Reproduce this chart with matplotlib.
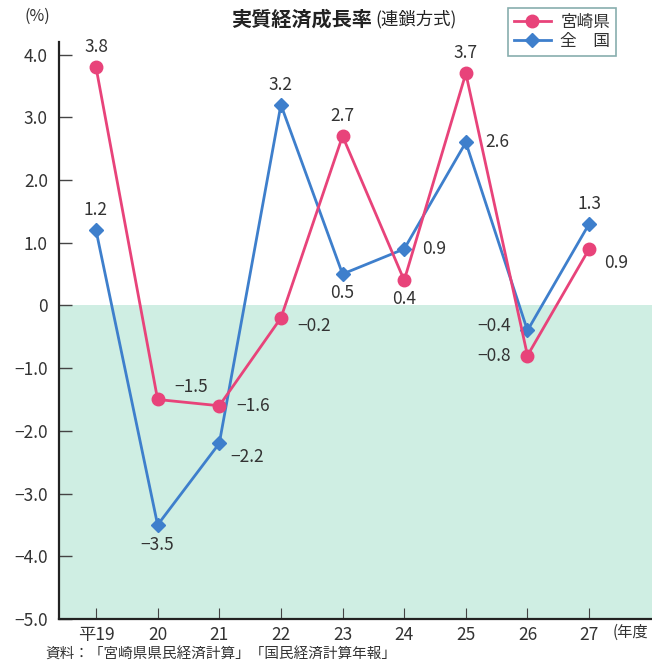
import matplotlib
matplotlib.use("Agg")
import matplotlib.pyplot as plt
from matplotlib.lines import Line2D

plt.rcParams['font.family'] = ['Noto Sans CJK JP', 'DejaVu Sans']
plt.rcParams['axes.unicode_minus'] = True

years = ['平19', '20', '21', '22', '23', '24', '25', '26', '27']
miyazaki = [3.8, -1.5, -1.6, -0.2, 2.7, 0.4, 3.7, -0.8, 0.9]
zenkoku = [1.2, -3.5, -2.2, 3.2, 0.5, 0.9, 2.6, -0.4, 1.3]
yticks = [4.0, 3.0, 2.0, 1.0, 0, -1.0, -2.0, -3.0, -4.0, -5.0]
ytick_labels = ['4.0', '3.0', '2.0', '1.0', '0', '−1.0', '−2.0', '−3.0', '−4.0', '−5.0']

# label offsets in points (dx, dy) and alignment
miy_off = [(0, 8, 'center', 'bottom'), (12, 9, 'left', 'center'), (12, 0, 'left', 'center'),
           (12, -6, 'left', 'center'), (0, 8, 'center', 'bottom'), (0, -7, 'center', 'top'),
           (0, 8, 'center', 'bottom'), (-12, 0, 'right', 'center'), (11, -10, 'left', 'center')]
zen_off = [(0, 8, 'center', 'bottom'), (0, -8, 'center', 'top'), (8, -10, 'left', 'center'),
           (0, 8, 'center', 'bottom'), (0, -7, 'center', 'top'), (13, 0, 'left', 'center'),
           (14, 0, 'left', 'center'), (-12, 3, 'right', 'center'), (0, 8, 'center', 'bottom')]

pink = '#e8437a'
blue = '#3e7fcc'
green = '#cfeee3'
txt = '#333333'

fig = plt.figure(figsize=(6.52, 6.68), dpi=100)
ax = fig.add_axes([59/652, 1 - 619/668, 1 - 59/652, (619 - 42)/668])

x = list(range(len(years)))
ax.set_xlim(-0.6, 9.02)
ax.set_ylim(-5.0, 4.2)

ax.axhspan(-5.0, 0, color=green, zorder=0, lw=0)

ax.plot(x, zenkoku, color=blue, lw=2.0, marker='D', ms=7.5, zorder=3)
ax.plot(x, miyazaki, color=pink, lw=2.0, marker='o', ms=9, zorder=4)

def fmt(v):
    s = f'{abs(v):.1f}'
    return ('−' + s) if v < 0 else s

for xi, v, (dx, dy, ha, va) in zip(x, miyazaki, miy_off):
    ax.annotate(fmt(v), (xi, v), xytext=(dx, dy), textcoords='offset points',
                ha=ha, va=va, fontsize=12.5, color=txt, zorder=5)
for xi, v, (dx, dy, ha, va) in zip(x, zenkoku, zen_off):
    ax.annotate(fmt(v), (xi, v), xytext=(dx, dy), textcoords='offset points',
                ha=ha, va=va, fontsize=12.5, color=txt, zorder=5)

ax.set_yticks(yticks)
ax.set_yticklabels(ytick_labels)
ax.set_xticks(x)
ax.set_xticklabels(years)
ax.tick_params(axis='y', direction='in', length=9, width=1, color='#444444',
               labelsize=12.5, labelcolor=txt, pad=8)
ax.tick_params(axis='x', direction='in', length=8, width=0.8, color='#444444',
               labelsize=12.5, labelcolor=txt, pad=5)

for s in ['top', 'right']:
    ax.spines[s].set_visible(False)
for s in ['left', 'bottom']:
    ax.spines[s].set_linewidth(1.6)
    ax.spines[s].set_color('#222222')

fig.text(25/652, 1 - 16/668, '(%)', fontsize=11.5, color=txt, ha='left', va='center')
fig.text(613/652, 1 - 632/668, '(年度', fontsize=11, color=txt, ha='left', va='center')
fig.text(45/652, 1 - 655/668, '資料：「宮崎県県民経済計算」「国民経済計算年報」', fontsize=10.5,
         color=txt, ha='left', va='center')

fig.text(372/652, 1 - 19/668, '実質経済成長率', fontsize=14.5, fontweight='bold',
         color='#222222', ha='right', va='center')
fig.text(375/652, 1 - 19/668, '(連鎖方式)', fontsize=12.5, color='#222222',
         ha='left', va='center')

handles = [Line2D([0], [0], color=pink, lw=2, marker='o', ms=9),
           Line2D([0], [0], color=blue, lw=2, marker='D', ms=7.5)]
leg = fig.legend(handles, ['宮崎県', '全\u3000国'], loc='upper left',
                 bbox_to_anchor=(508/652, 1 - 8/668), frameon=True, fancybox=False,
                 fontsize=12, handlelength=2.2, borderpad=0.35, labelspacing=0.15,
                 handletextpad=0.6, borderaxespad=0)
leg.get_frame().set_edgecolor('#6a9a9a')
leg.get_frame().set_linewidth(1.2)
for t in leg.get_texts():
    t.set_color(txt)

fig.savefig('out.png', dpi=100)
